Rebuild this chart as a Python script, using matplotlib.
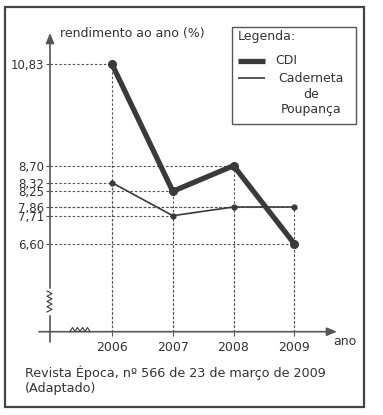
import numpy as np
import matplotlib.pyplot as plt
from matplotlib.lines import Line2D
from matplotlib.patches import Rectangle

# data
years = [2006, 2007, 2008, 2009]
cdi = [10.83, 8.25, 8.70, 6.60]
poupanca = [8.32, 7.71, 7.86, 7.86]
ytick_vals = [6.60, 7.71, 7.86, 8.25, 8.32, 8.70, 10.83]
ytick_labels = [f"{v:.2f}".replace('.', ',') for v in ytick_vals]

# the original graph is not to scale: piecewise map value -> height above x axis (px)
scale_vals = [0.0, 6.60, 7.71, 7.86, 8.25, 8.32, 8.70, 10.83, 11.5]
scale_pos = [0.0, 88.0, 116.0, 124.7, 140.4, 149.0, 166.0, 267.4, 298.7]


def fwd(v):
    return np.interp(v, scale_vals, scale_pos)


def inv(p):
    return np.interp(p, scale_pos, scale_vals)


W, H = 383, 415
DARK = '#3a3a3a'
GRID = '#555555'

plt.rcParams['font.family'] = 'DejaVu Sans'
fig = plt.figure(figsize=(W / 100, H / 100), dpi=100)


def fx(x):
    return x / W


def fy(y):
    return 1 - y / H


def px_line(xs, ys, **kw):
    fig.add_artist(Line2D([fx(x) for x in xs], [fy(y) for y in ys],
                          transform=fig.transFigure, **kw))


ax = fig.add_axes([fx(50), fy(331.7), 287 / W, 298.7 / H])
ax.patch.set_visible(False)
ax.set_yscale('function', functions=(fwd, inv))
ax.set_xlim(2006 - 62 / 60.7, 2009 + 42.7 / 60.7)
ax.set_ylim(0, 11.5)
for s in ax.spines.values():
    s.set_visible(False)

# dashed guide lines
x0 = ax.get_xlim()[0]
for serie in (cdi, poupanca):
    for x, y in zip(years, serie):
        ax.plot([x0, x], [y, y], color=GRID, lw=0.8, dashes=(2.2, 1.8), zorder=1)
        ax.plot([x, x], [0, y], color=GRID, lw=0.8, dashes=(2.2, 1.8), zorder=1)

# series
ax.plot(years, cdi, color=DARK, lw=3.8, marker='o', ms=5.5,
        solid_joinstyle='miter', zorder=4)
ax.plot(years, poupanca, color=DARK, lw=1.2, marker='o', ms=3.5, zorder=3)

# ticks
ax.set_xticks(years)
ax.set_xticklabels([str(y) for y in years], fontsize=9, color='#333333')
ax.set_yticks(ytick_vals)
ax.set_yticklabels(ytick_labels, fontsize=8.5, color='#333333')
ax.yaxis.set_minor_locator(plt.NullLocator())
ax.tick_params(axis='x', length=3, width=0.8, color=GRID, pad=3.5)
ax.tick_params(axis='y', length=3, width=0.8, color=GRID, pad=1.5)

# axes with arrows
ax.annotate('', xy=(0, 1), xytext=(0, -10.3 / 298.7), xycoords='axes fraction',
            arrowprops=dict(arrowstyle='-|>,head_length=0.6,head_width=0.25',
                            mutation_scale=10, color='#555555', lw=1.2,
                            shrinkA=0, shrinkB=0))
ax.annotate('', xy=(1, 0), xytext=(-11 / 287, 0), xycoords='axes fraction',
            arrowprops=dict(arrowstyle='-|>,head_length=0.6,head_width=0.25',
                            mutation_scale=10, color='#555555', lw=1.2,
                            shrinkA=0, shrinkB=0))

# axis breaks
zy = np.linspace(291, 312, 9)
zx = [47 if i % 2 == 0 else 52 for i in range(9)]
px_line([49.5, 49.5], [290, 313], color='white', lw=2.5)
px_line(zx, zy, color=DARK, lw=0.8)
bx = np.linspace(70, 90, 9)
by = [331.5 if i % 2 == 0 else 327.5 for i in range(9)]
px_line(bx, by, color=DARK, lw=0.8)

# texts
fig.text(fx(60), fy(33), 'rendimento ao ano (%)', fontsize=9, va='center', color='#333333')
fig.text(fx(333), fy(341), 'ano', fontsize=9, va='center', color='#333333')
fig.text(fx(25), fy(373), 'Revista Época, nº 566 de 23 de março de 2009',
         fontsize=9.2, va='center', color='#333333')
fig.text(fx(25), fy(388), '(Adaptado)', fontsize=9.2, va='center', color='#333333')

# legend box
fig.add_artist(Rectangle((fx(231.7), fy(124)), 124 / W, 97.3 / H, transform=fig.transFigure,
                         fill=False, ec='#555555', lw=1))
fig.text(fx(237.5), fy(36.5), 'Legenda:', fontsize=9, va='center', color='#333333')
px_line([237.5, 264.5], [61, 61], color=DARK, lw=3.8, solid_capstyle='butt')
fig.text(fx(275), fy(61), 'CDI', fontsize=9, va='center', color='#333333')
px_line([237.5, 264.5], [78.5, 78.5], color=DARK, lw=1.2, solid_capstyle='butt')
fig.text(fx(311), fy(94.5), 'Caderneta\nde\nPoupança', fontsize=9, ha='center', va='center',
         multialignment='center', linespacing=1.25, color='#333333')

# outer frame
fig.add_artist(Rectangle((fx(5), fy(407)), 358.5 / W, 399.5 / H, transform=fig.transFigure,
                         fill=False, ec='#444444', lw=1.6))

fig.savefig('out.png', dpi=100)
